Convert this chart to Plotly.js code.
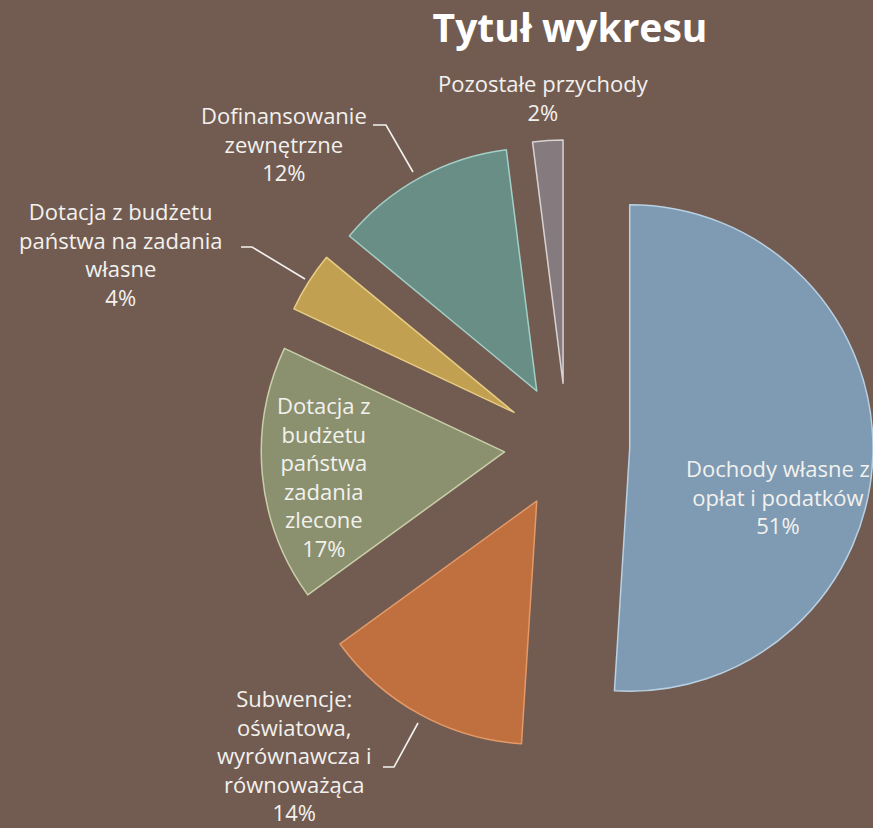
<!DOCTYPE html>
<html><head><meta charset="utf-8">
<script src="https://cdn.plot.ly/plotly-3.0.1.min.js"></script>
<style>html,body{margin:0;padding:0;background:#725c51;overflow:hidden}</style>
</head><body><div id="chart" style="width:873px;height:828px"></div>
<script>
// ---- data ----
const labels = [
  "Dochody własne z opłat i podatków",
  "Subwencje: oświatowa, wyrównawcza i równoważąca",
  "Dotacja z budżetu państwa zadania zlecone",
  "Dotacja z budżetu państwa na zadania własne",
  "Dofinansowanie zewnętrzne",
  "Pozostałe przychody"
];
const labelWrapped = [
  "Dochody własne z<br>opłat i podatków",
  "Subwencje:<br>oświatowa,<br>wyrównawcza i<br>równoważąca",
  "Dotacja z<br>budżetu<br>państwa<br>zadania<br>zlecone",
  "Dotacja z budżetu<br>państwa na zadania<br>własne",
  "Dofinansowanie<br>zewnętrzne",
  "Pozostałe przychody"
];
const values = [51, 14, 17, 4, 12, 2];
const colors = ["#7e9bb3", "#c06f3f", "#8b916f", "#c2a051", "#688e86", "#857b7e"];
const edgeColors = ["#b9d0e2", "#e39a68", "#c9cfa9", "#e8cd84", "#a3cfc7", "#d8d2d4"];

// ---- layout helpers (pixel -> paper) ----
const W = 873, H = 828;
const X = px => px / W;
const Y = py => 1 - py / H;

const total = values.reduce((a, b) => a + b, 0);
const pct = values.map(v => Math.round(v / total * 100) + "%");

// label centre positions (px) for each slice
const labelPos = [[778, 496], [294, 755], [324, 476], [120, 254], [284, 143], [543, 98]];
const fontFam = "'Open Sans', 'Noto Sans', sans-serif";

const annotations = labels.map((l, i) => ({
  xref: "paper", yref: "paper",
  x: X(labelPos[i][0]), y: Y(labelPos[i][1]),
  xanchor: "center", yanchor: "middle", align: "center",
  showarrow: false,
  text: labelWrapped[i] + "<br>" + pct[i],
  font: {family: fontFam, size: 22, color: "#f3f1ee"}
}));

const leader = pts => ({
  type: "path", xref: "paper", yref: "paper",
  path: pts.map((p, k) => (k ? "L" : "M") + X(p[0]) + "," + Y(p[1])).join(" "),
  line: {color: "#f3f1ee", width: 1.6}
});
const shapes = [
  leader([[373, 125], [386, 125], [413, 172]]),
  leader([[241, 247], [252, 247], [305, 279]]),
  leader([[383, 767], [394, 767], [418, 723]])
];

const trace = {
  type: "pie",
  labels: labels,
  values: values,
  sort: false,
  direction: "clockwise",
  rotation: 0,
  pull: values.map(() => 0.258),
  marker: {colors: colors, line: {color: edgeColors, width: 1.5}},
  textinfo: "none",
  hoverinfo: "none",
  domain: {x: [X(261), 1], y: [Y(753), Y(139)]}
};

const layout = {
  width: W, height: H,
  margin: {l: 0, r: 0, t: 0, b: 0},
  paper_bgcolor: "#725c51",
  plot_bgcolor: "#725c51",
  showlegend: false,
  hovermode: false,
  title: {
    text: "Tytuł wykresu",
    font: {family: fontFam, size: 39, color: "#ffffff", weight: "bold"},
    x: X(570), xanchor: "center", xref: "paper",
    y: 1 - 28 / H, yanchor: "middle", yref: "container"
  },
  annotations: annotations,
  shapes: shapes
};

Plotly.newPlot("chart", [trace], layout, {displayModeBar: false, staticPlot: true});
</script>
</body></html>
